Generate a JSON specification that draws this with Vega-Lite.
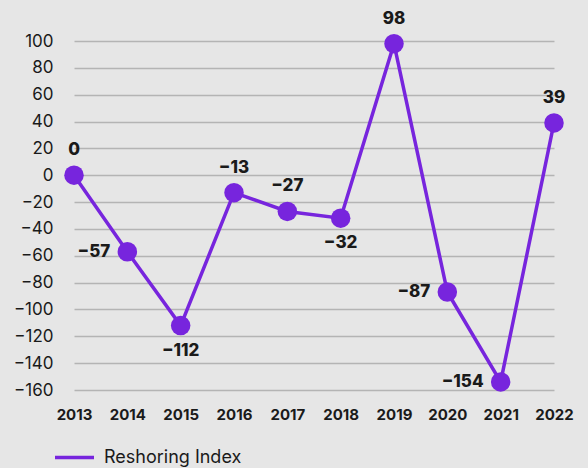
{
  "$schema": "https://vega.github.io/schema/vega-lite/v6.json",
  "width": 480,
  "height": 349,
  "autosize": "none",
  "padding": {"left": 74, "top": 41, "right": 34, "bottom": 78},
  "background": "#e6e6e6",
  "config": {
    "view": {"stroke": null},
    "font": "Inter",
    "axis": {"domain": false, "ticks": false, "labelFont": "Inter", "labelColor": "#1a1a1a"}
  },
  "data": {
    "values": [
      {"year": "2013", "value": 0},
      {"year": "2014", "value": -57},
      {"year": "2015", "value": -112},
      {"year": "2016", "value": -13},
      {"year": "2017", "value": -27},
      {"year": "2018", "value": -32},
      {"year": "2019", "value": 98},
      {"year": "2020", "value": -87},
      {"year": "2021", "value": -154},
      {"year": "2022", "value": 39}
    ]
  },
  "encoding": {
    "x": {
      "field": "year", "type": "ordinal",
      "scale": {"type": "point", "padding": 0},
      "axis": {"title": null, "labelAngle": 0, "labelFontSize": 15, "labelFontWeight": "bold", "labelPadding": 17, "grid": false}
    },
    "y": {
      "field": "value", "type": "quantitative",
      "scale": {"domain": [-160, 100], "nice": false},
      "axis": {"title": null, "values": [-160,-140,-120,-100,-80,-60,-40,-20,0,20,40,60,80,100], "labelFontSize": 17, "labelPadding": 21, "gridColor": "#b4b4b4", "gridWidth": 1.4}
    }
  },
  "layer": [
    {
      "mark": {"type": "line", "strokeWidth": 3.5, "clip": false},
      "encoding": {
        "color": {
          "datum": "Reshoring Index",
          "scale": {"range": ["#7725dd"]},
          "legend": {
            "title": null, "orient": "none", "legendX": -21, "legendY": 395,
            "symbolType": "stroke", "symbolSize": 1521, "symbolStrokeWidth": 3.5, "symbolStrokeColor": "#7725dd",
            "labelFontSize": 18, "labelFont": "Inter", "labelColor": "#1a1a1a", "labelOffset": 8
          }
        }
      }
    },
    {
      "mark": {"type": "point", "filled": true, "size": 380, "opacity": 1, "color": "#7725dd", "clip": false}
    },
    {
      "transform": [{"filter": {"field": "year", "oneOf": ["2013", "2016", "2017", "2019", "2022"]}}],
      "mark": {"type": "text", "fontSize": 17, "fontWeight": 800, "color": "#1a1a1a", "baseline": "middle", "dy": -25},
      "encoding": {"text": {"field": "value", "type": "quantitative", "format": "d"}}
    },
    {
      "transform": [{"filter": {"field": "year", "oneOf": ["2015", "2018"]}}],
      "mark": {"type": "text", "fontSize": 17, "fontWeight": 800, "color": "#1a1a1a", "baseline": "middle", "dy": 25},
      "encoding": {"text": {"field": "value", "type": "quantitative", "format": "d"}}
    },
    {
      "transform": [{"filter": {"field": "year", "oneOf": ["2014", "2020", "2021"]}}],
      "mark": {"type": "text", "fontSize": 17, "fontWeight": 800, "color": "#1a1a1a", "baseline": "middle", "align": "right", "dx": -17},
      "encoding": {"text": {"field": "value", "type": "quantitative", "format": "d"}}
    }
  ]
}
